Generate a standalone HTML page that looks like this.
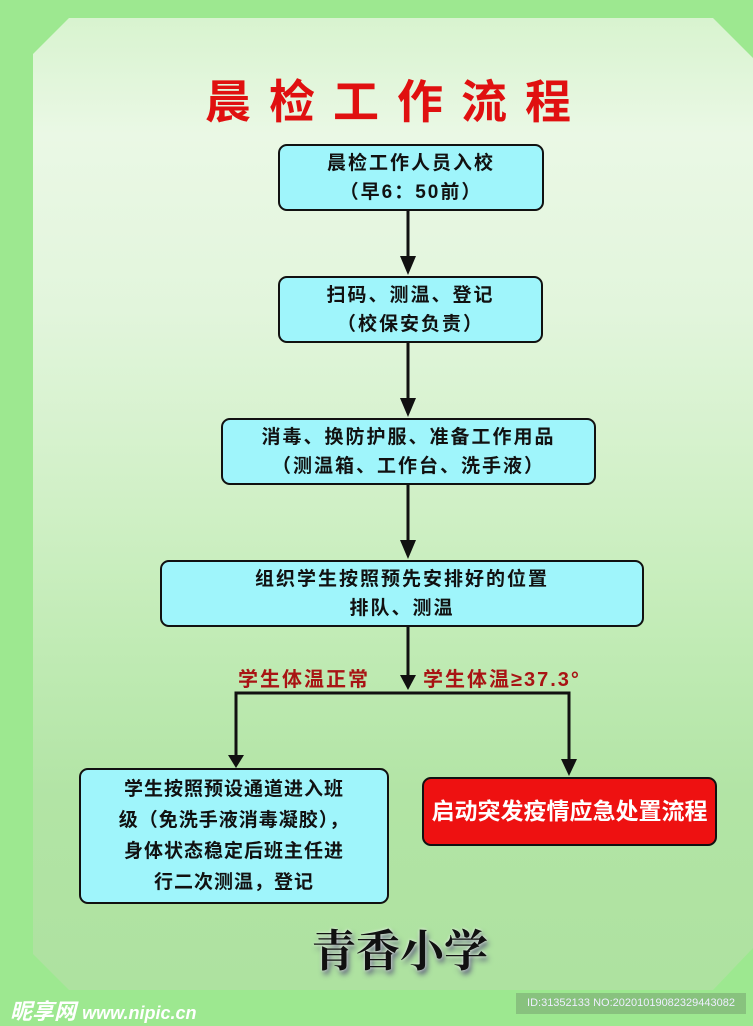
<!DOCTYPE html>
<html><head><meta charset="utf-8"><style>
body{margin:0;width:753px;height:1024px;position:relative;overflow:hidden;background:#9de890;font-family:"Liberation Sans","Noto Sans CJK SC",sans-serif}
.panel{position:absolute;left:33px;top:18px;width:720px;height:972px;background:linear-gradient(180deg,#d8f3cf 0%,#eaf8e5 12%,#e2f5dc 30%,#d0f0c6 50%,#c0ebb4 65%,#b2e4a5 80%,#aee2a0 100%);clip-path:polygon(36px 0,680px 0,720px 40px,720px 930px,680px 972px,36px 972px,0 936px,0 36px)}
.box{position:absolute;box-sizing:border-box;border:2px solid #111;border-radius:9px;background:#9ff5fb;text-align:center;font-weight:bold;font-size:19px;color:#111;display:flex;align-items:center;justify-content:center;line-height:29px;letter-spacing:2px}
.title{position:absolute;left:205px;width:420px;top:66px;color:#e01010;font-size:46px;font-weight:bold;letter-spacing:18px;white-space:nowrap}
.lab{position:absolute;color:#a81414;font-weight:bold;font-size:20px;letter-spacing:2px}
</style></head><body>
<div class="panel"></div>
<div class="title">晨检工作流程</div>
<svg width="753" height="1024" style="position:absolute;left:0;top:0">
<g stroke="#111" stroke-width="3" fill="none">
<line x1="408" y1="211" x2="408" y2="262"/><line x1="408" y1="343" x2="408" y2="404"/>
<line x1="408" y1="485" x2="408" y2="546"/><line x1="408" y1="627" x2="408" y2="680"/>
<polyline points="236,762 236,693 569,693 569,764"/>
</g>
<g fill="#111">
<polygon points="400,256 416,256 408,275"/><polygon points="400,398 416,398 408,417"/>
<polygon points="400,540 416,540 408,559"/><polygon points="400,675 416,675 408,690"/>
<polygon points="228,755 244,755 236,768"/><polygon points="561,759 577,759 569,776"/>
</g>
</svg>
<div class="box" style="left:278px;top:144px;width:266px;height:67px">晨检工作人员入校<br>（早6：50前）</div>
<div class="box" style="left:278px;top:276px;width:265px;height:67px">扫码、测温、登记<br>（校保安负责）</div>
<div class="box" style="left:221px;top:418px;width:375px;height:67px">消毒、换防护服、准备工作用品<br>（测温箱、工作台、洗手液）</div>
<div class="box" style="left:160px;top:560px;width:484px;height:67px">组织学生按照预先安排好的位置<br>排队、测温</div>
<div class="lab" style="left:238px;top:663px">学生体温正常</div>
<div class="lab" style="left:423px;top:663px">学生体温≥37.3°</div>
<div class="box" style="left:79px;top:768px;width:310px;height:136px;line-height:31px;letter-spacing:1px">学生按照预设通道进入班<br>级（免洗手液消毒凝胶），<br>身体状态稳定后班主任进<br>行二次测温，登记</div>
<div class="box" style="left:422px;top:777px;width:295px;height:69px;background:#ee1111;color:#fff;font-size:23px;letter-spacing:0">启动突发疫情应急处置流程</div>
<div style="position:absolute;left:312px;top:915px;font-size:44px;font-weight:bold;color:#111;font-family:'Noto Serif CJK SC',serif;text-shadow:0 0 3px #fff,2px 4px 6px #557">青香小学</div>
<div style="position:absolute;left:10px;top:994px;color:#fff;font-weight:bold;font-size:22px;font-style:italic">昵享网 <span style="font-size:18px">www.nipic.cn</span></div>
<div style="position:absolute;left:516px;top:993px;width:230px;height:21px;background:#88c27e;color:#eef;font-size:11px;line-height:21px;text-align:center">ID:31352133 NO:20201019082329443082</div>
</body></html>
